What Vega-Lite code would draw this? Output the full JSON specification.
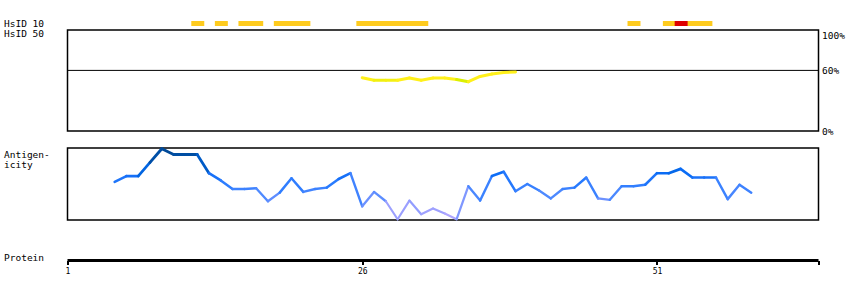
{
  "$schema": "https://vega.github.io/schema/vega-lite/v6.json",
  "padding": {"left": 2.5, "top": 18, "right": 4, "bottom": 4},
  "background": "white",
  "config": {
    "font": "DejaVu Sans Mono",
    "view": {"stroke": "black", "strokeWidth": 1.5},
    "axis": {"titleFont": "DejaVu Sans Mono", "labelFont": "DejaVu Sans Mono", "titleFontWeight": "normal", "titleColor": "black", "labelColor": "black", "titleFontSize": 9.5, "labelFontSize": 9.5, "grid": false}
  },
  "datasets": {
    "hsid10": [
      {"start": 11.5, "end": 12.6, "kind": "hit"},
      {"start": 13.5, "end": 14.6, "kind": "hit"},
      {"start": 15.5, "end": 17.6, "kind": "hit"},
      {"start": 18.5, "end": 21.6, "kind": "hit"},
      {"start": 25.5, "end": 31.6, "kind": "hit"},
      {"start": 48.5, "end": 49.6, "kind": "hit"},
      {"start": 51.5, "end": 55.7, "kind": "hit"},
      {"start": 52.5, "end": 53.6, "kind": "top"}
    ],
    "hsid50": [
      {"residue": 26, "value": 52.8},
      {"residue": 27, "value": 50.2},
      {"residue": 28, "value": 50.2},
      {"residue": 29, "value": 50.3},
      {"residue": 30, "value": 52.5},
      {"residue": 31, "value": 50.2},
      {"residue": 32, "value": 52.5},
      {"residue": 33, "value": 52.5},
      {"residue": 34, "value": 51.0},
      {"residue": 35, "value": 48.8},
      {"residue": 36, "value": 54.0},
      {"residue": 37, "value": 56.5},
      {"residue": 38, "value": 58.0},
      {"residue": 39, "value": 58.4}
    ],
    "antigen": [
      {"residue": 5, "value": 0.53},
      {"residue": 6, "value": 0.61},
      {"residue": 7, "value": 0.61},
      {"residue": 8, "value": 0.80},
      {"residue": 9, "value": 0.99},
      {"residue": 10, "value": 0.91},
      {"residue": 11, "value": 0.91},
      {"residue": 12, "value": 0.91},
      {"residue": 13, "value": 0.65},
      {"residue": 14, "value": 0.55},
      {"residue": 15, "value": 0.43},
      {"residue": 16, "value": 0.43},
      {"residue": 17, "value": 0.44},
      {"residue": 18, "value": 0.26},
      {"residue": 19, "value": 0.38},
      {"residue": 20, "value": 0.58},
      {"residue": 21, "value": 0.39},
      {"residue": 22, "value": 0.43},
      {"residue": 23, "value": 0.45},
      {"residue": 24, "value": 0.57},
      {"residue": 25, "value": 0.65},
      {"residue": 26, "value": 0.19},
      {"residue": 27, "value": 0.39},
      {"residue": 28, "value": 0.26},
      {"residue": 29, "value": 0.01},
      {"residue": 30, "value": 0.27},
      {"residue": 31, "value": 0.08},
      {"residue": 32, "value": 0.16},
      {"residue": 33, "value": 0.09},
      {"residue": 34, "value": 0.01},
      {"residue": 35, "value": 0.47},
      {"residue": 36, "value": 0.27},
      {"residue": 37, "value": 0.61},
      {"residue": 38, "value": 0.67},
      {"residue": 39, "value": 0.40},
      {"residue": 40, "value": 0.50},
      {"residue": 41, "value": 0.41},
      {"residue": 42, "value": 0.30},
      {"residue": 43, "value": 0.43},
      {"residue": 44, "value": 0.45},
      {"residue": 45, "value": 0.59},
      {"residue": 46, "value": 0.30},
      {"residue": 47, "value": 0.28},
      {"residue": 48, "value": 0.47},
      {"residue": 49, "value": 0.47},
      {"residue": 50, "value": 0.49},
      {"residue": 51, "value": 0.65},
      {"residue": 52, "value": 0.65},
      {"residue": 53, "value": 0.71},
      {"residue": 54, "value": 0.59},
      {"residue": 55, "value": 0.59},
      {"residue": 56, "value": 0.59},
      {"residue": 57, "value": 0.29},
      {"residue": 58, "value": 0.49},
      {"residue": 59, "value": 0.38}
    ],
    "protein": [{"start": 1, "end": 64.7, "level": 0}],
    "threshold": [{"level": 60}]
  },
  "vconcat": [
    {
      "vconcat": [
        {
          "width": 751,
          "height": 5,
          "view": {"stroke": null},
          "data": {"name": "hsid10"},
          "mark": {"type": "rect"},
          "encoding": {
            "x": {"field": "start", "type": "quantitative", "scale": {"domain": [1, 64.7], "nice": false, "zero": false},
              "axis": {"orient": "top", "labels": false, "ticks": false, "domain": false, "title": "HsID 10", "titleAngle": 0, "titleAlign": "left", "titleBaseline": "middle", "titleX": -64, "titleY": 2.5}},
            "x2": {"field": "end"},
            "color": {"field": "kind", "type": "nominal", "scale": {"domain": ["hit", "top"], "range": ["#fecb1e", "#dd0000"]}, "legend": null}
          }
        },
        {
          "width": 751,
          "height": 101,
          "layer": [
            {
              "data": {"name": "threshold"},
              "mark": {"type": "rule", "color": "black", "strokeWidth": 1},
              "encoding": {
                "y": {"field": "level", "type": "quantitative", "scale": {"domain": [0, 100], "nice": false},
                  "axis": {"orient": "right", "values": [0, 60, 100], "labelExpr": "datum.value + '%'", "ticks": false, "domain": false, "labelPadding": 3,
                    "labelBaseline": {"condition": {"test": "datum.value === 100", "value": "top"}, "value": "middle"},
                    "title": "HsID 50", "titleAngle": 0, "titleAlign": "left", "titleBaseline": "middle", "titleX": -815, "titleY": 3.5}}
              }
            },
            {
              "data": {"name": "hsid50"},
              "transform": [
                {"window": [{"op": "lead", "field": "residue", "as": "r2"}, {"op": "lead", "field": "value", "as": "v2"}, {"op": "mean", "field": "value", "as": "vm"}], "sort": [{"field": "residue"}], "frame": [0, 1]},
                {"filter": "datum.r2 != null"}
              ],
              "mark": {"type": "rule", "strokeWidth": 3, "strokeCap": "round"},
              "encoding": {
                "x": {"field": "residue", "type": "quantitative", "scale": {"domain": [1, 64.7], "nice": false, "zero": false}, "axis": null},
                "x2": {"field": "r2"},
                "y": {"field": "value", "type": "quantitative"},
                "y2": {"field": "v2"},
                "color": {"field": "vm", "type": "quantitative", "scale": {"domain": [49.6, 50.4], "range": ["#c4ef00", "#fff01a"], "clamp": true}, "legend": null}
              }
            }
          ]
        }
      ],
      "spacing": 4,
      "bounds": "flush"
    },
    {
      "width": 751,
      "height": 72,
      "data": {"name": "antigen"},
      "transform": [
        {"window": [{"op": "lead", "field": "residue", "as": "r2"}, {"op": "lead", "field": "value", "as": "v2"}, {"op": "mean", "field": "value", "as": "vm"}], "sort": [{"field": "residue"}], "frame": [0, 1]},
        {"filter": "datum.r2 != null"}
      ],
      "mark": {"type": "rule", "strokeCap": "round"},
      "encoding": {
        "x": {"field": "residue", "type": "quantitative", "scale": {"domain": [1, 64.7], "nice": false, "zero": false}, "axis": null},
        "x2": {"field": "r2"},
        "y": {"field": "value", "type": "quantitative", "scale": {"domain": [0, 1], "nice": false},
          "axis": {"labels": false, "ticks": false, "domain": false, "title": ["Antigen-", "icity"], "titleAngle": 0, "titleAlign": "left", "titleBaseline": "top", "titleX": -64, "titleY": 1, "titleLineHeight": 10}},
        "y2": {"field": "v2"},
        "color": {"field": "vm", "type": "quantitative", "scale": {"domain": [0, 0.2, 0.35, 0.5, 0.65, 0.8, 0.95], "range": ["#b8a8ff", "#8c9cff", "#4f8aff", "#2a7cff", "#0a6cf5", "#0058c0", "#004a99"], "clamp": true}, "legend": null},
        "size": {"field": "vm", "type": "quantitative", "scale": {"domain": [0, 1], "range": [2, 3]}, "legend": null}
      }
    },
    {
      "width": 751,
      "height": 29.5,
      "view": {"stroke": null},
      "data": {"name": "protein"},
      "mark": {"type": "rule", "color": "black", "strokeWidth": 3},
      "encoding": {
        "x": {"field": "start", "type": "quantitative", "scale": {"domain": [1, 64.7], "nice": false, "zero": false},
          "axis": {"orient": "bottom", "values": [1, 26, 51, 64.7], "labelExpr": "datum.value > 60 ? '' : datum.label", "domain": false, "ticks": true, "tickSize": 4, "tickWidth": 2, "tickColor": "black", "labelPadding": 3, "labelFontSize": 8, "labelFlush": false,
            "title": "Protein", "titleAngle": 0, "titleAlign": "left", "titleBaseline": "middle", "titleX": -64, "titleY": -3}},
        "x2": {"field": "end"},
        "y": {"field": "level", "type": "quantitative", "scale": {"domain": [0, 1]}, "axis": null}
      }
    }
  ],
  "spacing": 9,
  "bounds": "full"
}
